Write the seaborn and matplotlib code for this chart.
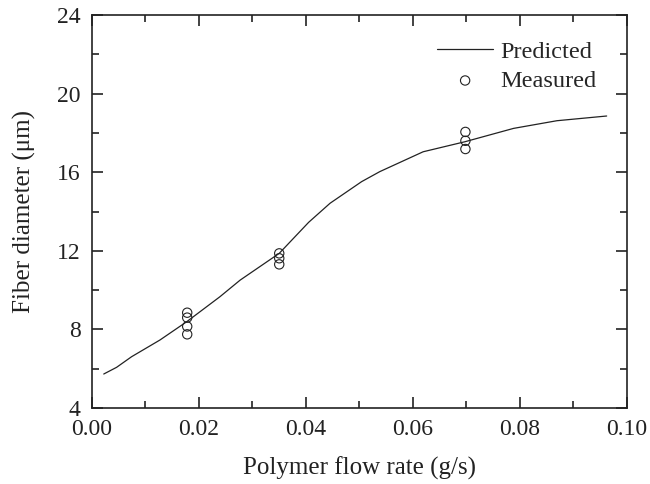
import pandas as pd
import matplotlib
matplotlib.use("Agg")
import matplotlib.pyplot as plt
import seaborn as sns
from matplotlib.ticker import MultipleLocator

# Dati
pred_flow = [0.0022, 0.0046, 0.0074, 0.0127, 0.0177, 0.0239, 0.0277, 0.0350,
             0.0405, 0.0445, 0.0504, 0.0538, 0.0619, 0.0697, 0.0788, 0.0869, 0.0962]
pred_diam = [5.73, 6.07, 6.61, 7.46, 8.39, 9.66, 10.51, 11.87,
             13.45, 14.42, 15.52, 16.03, 17.04, 17.55, 18.23, 18.62, 18.86]

meas_flow = [0.0178, 0.0178, 0.0178, 0.0178, 0.035, 0.035, 0.035, 0.0698, 0.0698, 0.0698]
meas_diam = [8.85, 8.6, 8.15, 7.75, 11.87, 11.62, 11.31, 18.05, 17.6, 17.18]

xtick_labels = ["0.00", "0.02", "0.04", "0.06", "0.08", "0.10"]

sns.set_style("ticks")
plt.rcParams['font.family'] = ['Liberation Serif', 'DejaVu Serif']

pred = pd.DataFrame({"flow": pred_flow, "diam": pred_diam})
meas = pd.DataFrame({"flow": meas_flow, "diam": meas_diam})

fig = plt.figure(figsize=(6.5, 4.84), dpi=100)
ax = fig.add_axes([0.1415, 0.157, 0.8231, 0.812])

sns.lineplot(data=pred, x="flow", y="diam", ax=ax, color="#222222",
             linewidth=0.9, label="Predicted")
sns.scatterplot(data=meas, x="flow", y="diam", ax=ax, marker="o", s=45,
                facecolor="none", edgecolor="#222222", linewidth=0.8,
                label="Measured")

ax.set_xlim(0, 0.10)
ax.set_ylim(4, 24)
ax.set_xticks([0, 0.02, 0.04, 0.06, 0.08, 0.10])
ax.set_xticklabels(xtick_labels)
ax.xaxis.set_minor_locator(MultipleLocator(0.01))
ax.yaxis.set_major_locator(MultipleLocator(4))
ax.yaxis.set_minor_locator(MultipleLocator(2))

ax.tick_params(which="both", direction="in", top=True, right=True,
               labelsize=17, colors="#222222", width=1.2)
ax.tick_params(which="major", length=8, pad=8)
ax.tick_params(which="minor", length=5)
for s in ax.spines.values():
    s.set_linewidth(1.2)
    s.set_color("#222222")

ax.set_xlabel("Polymer flow rate (g/s)", fontsize=18, labelpad=12, color="#222222")
ax.set_ylabel("Fiber diameter (\u03bcm)", fontsize=18, labelpad=15, color="#222222")

ax.legend(loc="upper right", frameon=False, fontsize=17.5, handlelength=2.3,
          handletextpad=0.3, borderpad=0, borderaxespad=0, labelspacing=0.3,
          bbox_to_anchor=(0.943, 0.935))

plt.savefig("out.png", dpi=100)
